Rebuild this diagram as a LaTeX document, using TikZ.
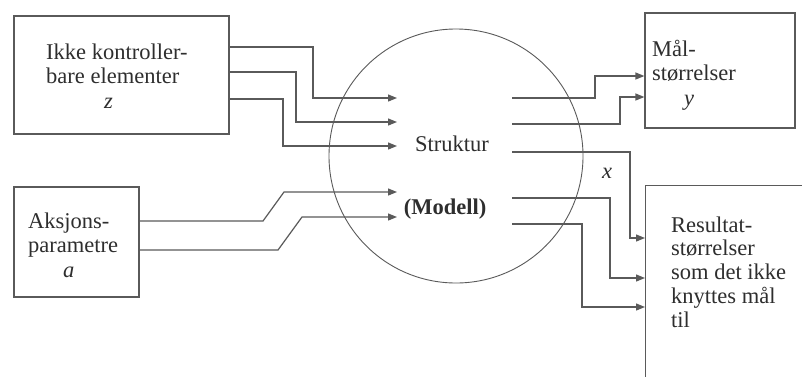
\documentclass[tikz,border=0pt]{standalone}
\usepackage{fontspec}
\setmainfont{Liberation Serif}
\usetikzlibrary{arrows.meta}
\definecolor{ink}{HTML}{2E2E2E}
\definecolor{wire}{HTML}{5A5A5A}
\begin{document}
\begin{tikzpicture}[x=1pt,y=-1pt,
  box/.style={draw=wire,line width=1.2pt,minimum width=#1,inner sep=0pt},
  txt/.style={text=ink,font=\fontsize{22.5}{24.5}\selectfont,align=left,inner sep=0pt,anchor=west},
  conn/.style={draw=wire,line width=1.2pt,-{Triangle[length=9pt,width=7pt]}}]
\clip (0,0) rectangle (802,376);
\fill[white] (0,0) rectangle (802,376);
% boxes
\node[box=215pt,minimum height=118pt] (zbox) at (121.5,75) {};
\node[box=125pt,minimum height=110pt] (abox) at (76.5,242) {};
\node[box=150pt,minimum height=115pt] (ybox) at (720,70.5) {};
\node[box=170pt,minimum height=210pt,anchor=north west] (rbox) at (645,185) {};
\node[draw=wire,line width=0.9pt,circle,minimum size=254pt,inner sep=0pt] (model) at (456,156) {};
% texts
\node[txt] (ztxt) at (46,76) {Ikke kontroller-\\bare elementer\\\hspace*{58pt}\textit{z}};
\node[txt] (atxt) at (28,245) {Aksjons-\\parametre\\\hspace*{35pt}\textit{a}};
\node[txt] (ytxt) at (652,75) {Mål-\\størrelser\\\hspace*{32pt}\textit{y}};
\node[txt,font=\fontsize{22.5}{23.8}\selectfont] (rtxt) at (671,272) {Resultat-\\størrelser\\som det ikke\\knyttes mål\\til};
\node[txt,anchor=center] (struk) at (452,144) {Struktur};
\node[txt,anchor=center,font=\fontsize{22.5}{24.5}\selectfont\bfseries] (modl) at (445,209) {(Modell)};
\node[txt,anchor=center] (xlab) at (607,173) {\textit{x}};
% inner end points
\coordinate (i1) at (397,98);
\coordinate (i2) at (397,122);
\coordinate (i3) at (397,146);
\coordinate (i4) at (397,192);
\coordinate (i5) at (397,217);
\coordinate (o1) at (512,98);
\coordinate (o2) at (512,124);
\coordinate (o3) at (512,152);
\coordinate (o4) at (512,198);
\coordinate (o5) at (512,224);
% inputs
\draw[conn] (zbox.east |- 0,47) -| (313,98) -- (i1);
\draw[conn] (zbox.east |- 0,72) -| (296,122) -- (i2);
\draw[conn] (zbox.east |- 0,99) -| (283,146) -- (i3);
\draw[conn] (abox.east |- 0,221) -- (263,221) -- (284,192) -- (i4);
\draw[conn] (abox.east |- 0,250) -- (278,250) -- (302,217) -- (i5);
% outputs
\draw[conn] (o1) -| (595,76) -- (ybox.west |- 0,76);
\draw[conn] (o2) -| (620,97) -- (ybox.west |- 0,97);
\draw[conn] (o3) -| (630,238) -- (rbox.west |- 0,238);
\draw[conn] (o4) -| (610,278) -- (rbox.west |- 0,278);
\draw[conn] (o5) -| (582,307) -- (rbox.west |- 0,307);
\end{tikzpicture}
\end{document}
